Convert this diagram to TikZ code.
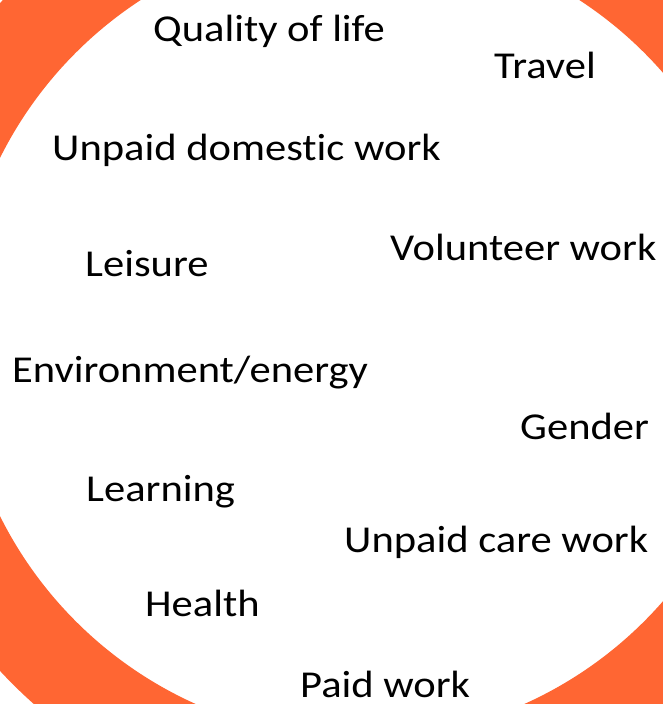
\documentclass[tikz,border=0pt]{standalone}
\usepackage{fontspec}
\setmainfont{Carlito}[FakeStretch=1.12, Ligatures=NoCommon]
\usetikzlibrary{positioning}
\definecolor{ringorange}{RGB}{255,102,51}

\begin{document}
\begin{tikzpicture}[x=1pt, y=-1pt,
    topic/.style={anchor=base west, inner sep=0pt, font=\fontsize{38}{42}\selectfont}]
    \useasboundingbox (0,0) rectangle (663,704);
    \begin{scope}
        \clip (0,0) rectangle (663,704);
        \fill[ringorange, even odd rule] (360,337) circle[radius=491] (360,337) circle[radius=402];
    \end{scope}

    \node[topic] (qol) at (153,41) {Quality of life};
    \node[topic] (travel) at (494,78) {Travel};
    \node[topic] (domestic) at (52,160) {Unpaid domestic work};
    \node[topic] (volunteer) at (390,260) {Volunteer work};
    \node[topic] (leisure) at (85,276) {Leisure};
    \node[topic] (env) at (12,382) {Environment/energy};
    \node[topic] (gender) at (520,439) {Gender};
    \node[topic] (learning) at (86,501) {Learning};
    \node[topic] (care) at (344,552) {Unpaid care work};
    \node[topic] (health) at (145,616) {Health};
    \node[topic] (paid) at (300,697) {Paid work};
\end{tikzpicture}
\end{document}
